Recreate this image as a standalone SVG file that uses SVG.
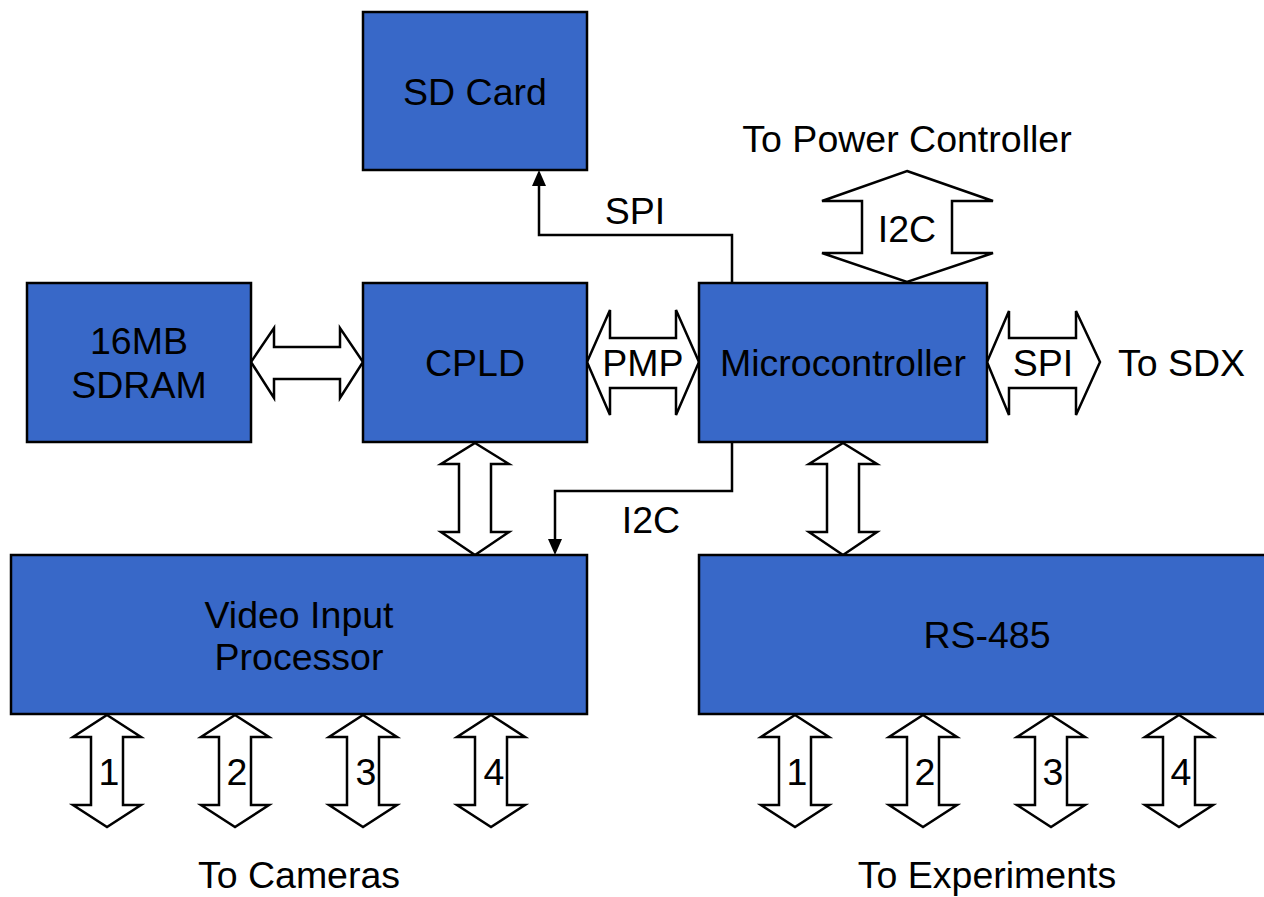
<svg xmlns="http://www.w3.org/2000/svg" width="1264" height="897" viewBox="0 0 1264 897">
<style>
.box{fill:#3868C8;stroke:#000;stroke-width:2.5}
.arr{fill:#fff;stroke:#000;stroke-width:2.5;stroke-linejoin:miter}
.ln{fill:none;stroke:#000;stroke-width:2.5}
text{font-family:"Liberation Sans",Arial,sans-serif;font-size:37.5px;fill:#000;text-anchor:middle}
</style>
<defs>
<polygon id="va" class="arr" points="0,715 34,737 16,737 16,805 34,805 0,827 -34,805 -16,805 -16,737 -34,737"/>
</defs>
<rect width="1264" height="897" fill="#fff"/>
<g id="connectors">
<polyline class="ln" points="732,283 732,235 539,235 539,185"/>
<polygon points="539,170 546,186 532,186" fill="#000"/>
<polyline class="ln" points="732,442 732,491 555,491 555,540"/>
<polygon points="555,555 562,539 548,539" fill="#000"/>
<polygon class="arr" points="251,362 274,328 274,347 340,347 340,328 363,362 340,398 340,379 274,379 274,398"/>
<polygon class="arr" points="587,362 610,310 610,338 676,338 676,310 699,362 676,415 676,388 610,388 610,415"/>
<polygon class="arr" points="987,362 1009,311 1009,338 1076,338 1076,311 1100,362 1076,415 1076,388 1009,388 1009,415"/>
<polygon class="arr" points="907,171 993,201 952,201 952,253 993,253 907,282 822,253 862,253 862,201 822,201"/>
<polygon class="arr" points="475,443 509,464 491,464 491,532 509,532 475,555 441,532 459,532 459,464 441,464"/>
<polygon class="arr" points="843,443 877,464 859,464 859,532 877,532 843,555 809,532 827,532 827,464 809,464"/>
<use href="#va" x="107"/>
<use href="#va" x="235"/>
<use href="#va" x="363"/>
<use href="#va" x="491"/>
<use href="#va" x="795"/>
<use href="#va" x="923"/>
<use href="#va" x="1051"/>
<use href="#va" x="1179"/>
<text x="635" y="224">SPI</text>
<text x="651" y="533">I2C</text>
<text x="643" y="376">PMP</text>
<text x="1043" y="376">SPI</text>
<text x="907" y="242">I2C</text>
<text x="109" y="785">1</text>
<text x="237" y="785">2</text>
<text x="366" y="785">3</text>
<text x="494" y="785">4</text>
<text x="797" y="785">1</text>
<text x="925" y="785">2</text>
<text x="1053" y="785">3</text>
<text x="1181" y="785">4</text>
</g>
<g id="sdcard"><rect class="box" x="363" y="12" width="224" height="158"/><text x="475" y="105">SD Card</text></g>
<g id="sdram"><rect class="box" x="27" y="283" width="224" height="159"/><text x="139" y="354">16MB</text><text x="139" y="398">SDRAM</text></g>
<g id="cpld"><rect class="box" x="363" y="283" width="224" height="159"/><text x="475" y="376">CPLD</text></g>
<g id="micro"><rect class="box" x="699" y="283" width="288" height="159"/><text x="843" y="376">Microcontroller</text></g>
<g id="video"><rect class="box" x="11" y="555" width="576" height="159"/><text x="299" y="628">Video Input</text><text x="299" y="670">Processor</text></g>
<g id="rs485"><rect class="box" x="699" y="555" width="580" height="159"/><text x="987" y="648">RS-485</text></g>
<g id="labels">
<text x="907" y="152">To Power Controller</text>
<text x="1118" y="376" style="text-anchor:start">To SDX</text>
<text x="299" y="888">To Cameras</text>
<text x="987" y="888">To Experiments</text>
</g>
</svg>
